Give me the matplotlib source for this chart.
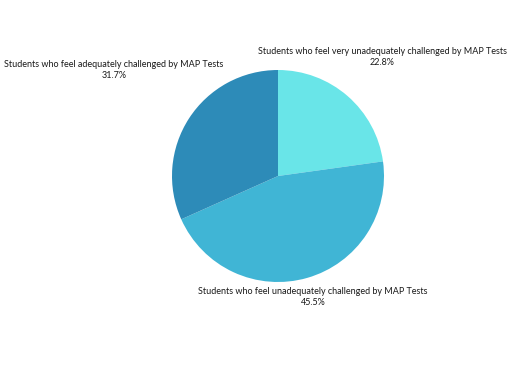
import matplotlib
matplotlib.use("Agg")
import matplotlib.pyplot as plt

labels = [
    "Students who feel very unadequately challenged by MAP Tests",
    "Students who feel unadequately challenged by MAP Tests",
    "Students who feel adequately challenged by MAP Tests",
]
values = [22.8, 45.5, 31.7]
colors = ["#69e5e8", "#40b5d5", "#2d8bb8"]

# label anchor points (pixel-style coordinates, y measured upward)
label_xy = [(382, 327), (313, 87), (114, 314)]

fig = plt.figure(figsize=(5.12, 3.84), dpi=100)
ax = fig.add_axes([0, 0, 1, 1])

ax.pie(values, colors=colors, startangle=90, counterclock=False,
       center=(278, 208), radius=106, frame=True,
       wedgeprops=dict(linewidth=0.6, edgecolor="none"))
ax.set_xlim(0, 512)
ax.set_ylim(0, 384)
ax.set_aspect("equal")
ax.axis("off")

for lab, val, (x, y) in zip(labels, values, label_xy):
    ax.text(x, y, f"{lab}\n{val}%", ha="center", va="center",
            fontsize=6.5, family="Lato", color="#1a1a1a",
            linespacing=1.35)

fig.savefig("out.png", dpi=100)
